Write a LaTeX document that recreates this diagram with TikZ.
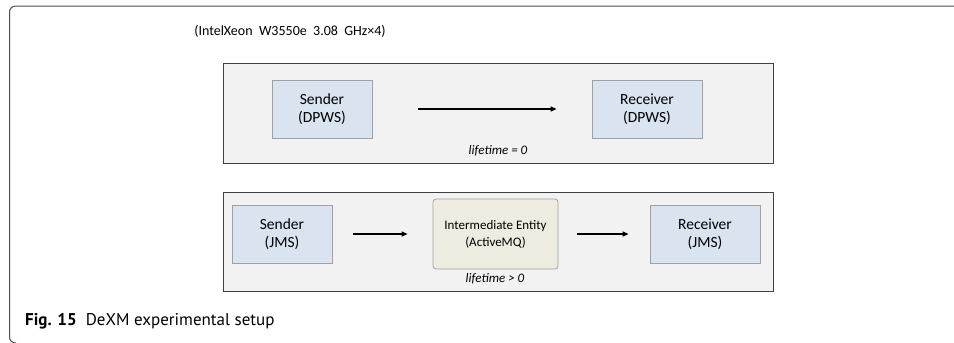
\documentclass[tikz,border=0pt]{standalone}
\usepackage{fontspec}
\setmainfont{Carlito}
\newfontfamily\capfont{PT Sans}
\usetikzlibrary{arrows.meta}
\definecolor{boxblue}{HTML}{DAE3F0}
\definecolor{boxtan}{HTML}{EEECE1}
\definecolor{panelgray}{HTML}{F2F2F2}
\definecolor{boxedge}{HTML}{A0A0A0}
\definecolor{paneledge}{HTML}{404040}
\tikzset{
  panel/.style={draw=paneledge, fill=panelgray, line width=1pt, minimum width=550pt, inner sep=0pt},
  bluebox/.style={draw=boxedge, fill=boxblue, line width=0.8pt, minimum height=58pt, align=center, font=\fontsize{15.5}{18}\selectfont, inner sep=0pt},
  tanbox/.style={draw=boxedge, fill=boxtan, line width=0.8pt, rounded corners=3pt, minimum width=125pt, minimum height=70pt, align=center, font=\fontsize{13}{17}\selectfont, inner sep=0pt},
  flow/.style={-{Triangle[length=6pt,width=5pt]}, line width=1.2pt, black},
  lifelabel/.style={font=\fontsize{13}{15}\selectfont\itshape, inner sep=0pt}
}
\begin{document}
\begin{tikzpicture}[x=1pt,y=-1pt]
\useasboundingbox (0,0) rectangle (954,343);
% outer frame
\draw[color=black!70, line width=1pt, rounded corners=6pt] (954,6) -- (9.5,6) -- (9.5,343) -- (16,343);
% title
\node[font=\fontsize{14}{16}\selectfont, inner sep=0pt] (title) at (290,31) {(IntelXeon\ \ W3550e\ \ 3.08\ \ GHz×4)};
% panel 1
\node[panel, minimum height=100pt] (p1) at (498,113) {};
\node[bluebox, minimum width=100pt] (sd) at (322,109) {Sender\\(DPWS)};
\node[bluebox, minimum width=110pt] (rd) at (647,109) {Receiver\\(DPWS)};
\draw[flow, shorten <=46pt, shorten >=35pt] (sd.east) -- (rd.west);
\node[lifelabel] (l1) at (498,151) {lifetime = 0};
% panel 2
\node[panel, minimum height=99pt] (p2) at (498,241.5) {};
\node[bluebox, minimum width=100pt] (sj) at (282,234) {Sender\\(JMS)};
\node[tanbox] (im) at (495.5,234) {Intermediate Entity\\(ActiveMQ)};
\node[bluebox, minimum width=110pt] (rj) at (705,234) {Receiver\\(JMS)};
\draw[flow, shorten <=21pt, shorten >=25pt] (sj.east) -- (im.west);
\draw[flow, shorten <=19pt, shorten >=21pt] (im.east) -- (rj.west);
\node[lifelabel] (l2) at (495,279) {lifetime > 0};
% caption
\node[anchor=base west, inner sep=0pt, font=\capfont\fontsize{17}{20}\selectfont] (cap) at (25,325.5) {\textbf{Fig. 15}\ \ DeXM experimental setup};
\end{tikzpicture}
\end{document}
